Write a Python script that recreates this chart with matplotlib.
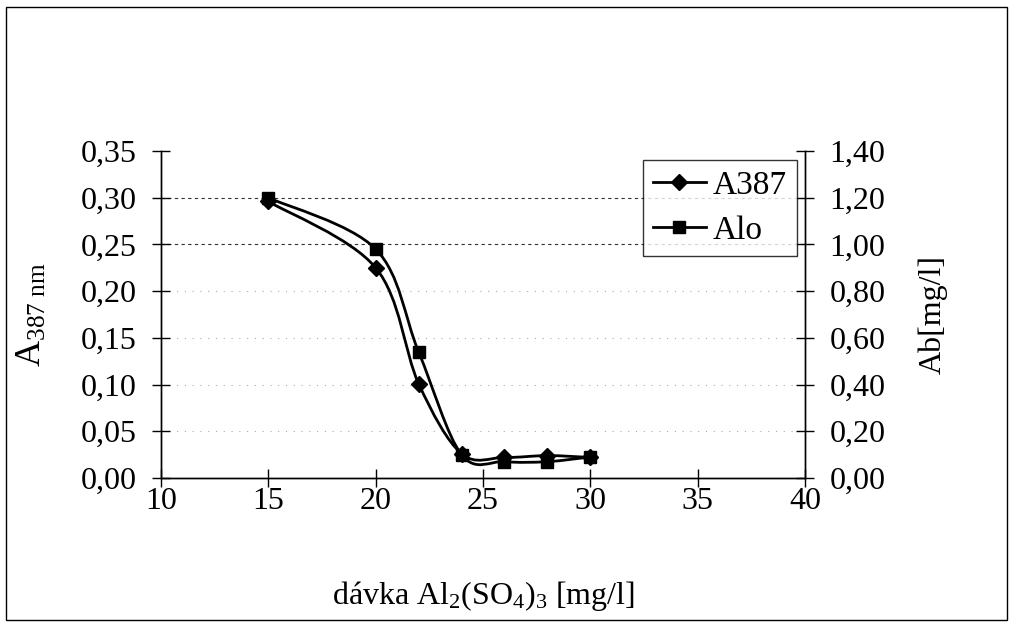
import matplotlib
matplotlib.use("Agg")
import matplotlib.pyplot as plt
from matplotlib.path import Path
from matplotlib.patches import PathPatch, Rectangle
from matplotlib.lines import Line2D
import numpy as np

plt.rcParams['font.family'] = ['Liberation Serif', 'DejaVu Serif']
plt.rcParams['mathtext.fontset'] = 'custom'
plt.rcParams['mathtext.rm'] = 'Liberation Serif'
plt.rcParams['mathtext.it'] = 'Liberation Serif:italic'

dose = [15, 20, 22, 24, 26, 28, 30]
a387 = [0.296, 0.225, 0.101, 0.026, 0.022, 0.024, 0.022]
alo = [1.20, 0.98, 0.54, 0.10, 0.07, 0.07, 0.09]

xticks = [10, 15, 20, 25, 30, 35, 40]
yticks_left = [0.00, 0.05, 0.10, 0.15, 0.20, 0.25, 0.30, 0.35]
yticks_right = [0.00, 0.20, 0.40, 0.60, 0.80, 1.00, 1.20, 1.40]


def smooth_path(xs, ys):
    pts = np.column_stack([xs, ys]).astype(float)
    n = len(pts)
    verts = [pts[0]]
    codes = [Path.MOVETO]
    for i in range(n - 1):
        p0 = pts[i - 1] if i > 0 else pts[i]
        p1 = pts[i]
        p2 = pts[i + 1]
        p3 = pts[i + 2] if i + 2 < n else pts[i + 1]
        c1 = p1 + (p2 - p0) / 6.0
        c2 = p2 - (p3 - p1) / 6.0
        verts += [c1, c2, p2]
        codes += [Path.CURVE4] * 3
    return Path(verts, codes)


W, H = 1010, 624
L, R, T, B = 161, 805, 151, 478
fig = plt.figure(figsize=(W / 100, H / 100), dpi=100)
ax = fig.add_axes([L / W, 1 - B / H, (R - L) / W, (B - T) / H])
ax2 = ax.twinx()

fs = 23

ax.set_xlim(10, 40)
ax.set_ylim(0, 0.35)
ax2.set_ylim(0, 1.40)

# gridlines
for v in yticks_left[1:-1]:
    if v >= 0.25:
        ax.axhline(v, color='#333333', lw=0.8, ls=(0, (3, 3)), zorder=0)
    else:
        ax.axhline(v, color='#aaaaaa', lw=0.8, ls=(0, (1, 6)), zorder=0)

# series
ax.add_patch(PathPatch(smooth_path(dose, a387), fill=False, lw=2, color='black', zorder=3))
ax.plot(dose, a387, ls='none', marker='D', ms=8, color='black', zorder=4)
ax2.add_patch(PathPatch(smooth_path(dose, alo), fill=False, lw=2, color='black', zorder=3))
ax2.plot(dose, alo, ls='none', marker='s', ms=9, color='black', zorder=4)

ax.set_xticks(xticks)
ax.set_xticklabels([str(v) for v in xticks])
ax.set_yticks(yticks_left)
ax.set_yticklabels([f"{v:.2f}".replace('.', ',') for v in yticks_left])
ax2.set_yticks(yticks_right)
ax2.set_yticklabels([f"{v:.2f}".replace('.', ',') for v in yticks_right])

for a in (ax, ax2):
    a.spines['top'].set_visible(False)
    for s in a.spines.values():
        s.set_linewidth(1.0)
    a.tick_params(direction='inout', length=13, width=1, labelsize=fs, pad=11)
ax.tick_params(axis='x', pad=0)

ax.set_xlabel("dávka Al$_2$(SO$_4$)$_3$ [mg/l]", fontsize=fs, labelpad=45)
ax.set_ylabel("A$_{\\mathrm{387\\ nm}}$", fontsize=fs + 3, labelpad=23)
ax2.set_ylabel("Ab[mg/l]", fontsize=fs, labelpad=24)

handles = [
    Line2D([], [], color='black', lw=2, marker='D', ms=8),
    Line2D([], [], color='black', lw=2, marker='s', ms=9),
]
leg = ax2.legend(handles, ["A387", "Alo"], loc='upper right', bbox_to_anchor=(0.987, 0.972),
                 fontsize=fs + 1, frameon=True, fancybox=False, edgecolor='black',
                 handlelength=1.6, handletextpad=0.2, borderpad=0.3, labelspacing=0.45,
                 borderaxespad=0)
leg.get_frame().set_linewidth(1.0)

fig.patches.append(Rectangle((6 / W, 1 - 620 / H), (1007 - 6) / W, (620 - 7) / H,
                             transform=fig.transFigure, fill=False, edgecolor='black', lw=1))

fig.savefig("out.png", dpi=100)
